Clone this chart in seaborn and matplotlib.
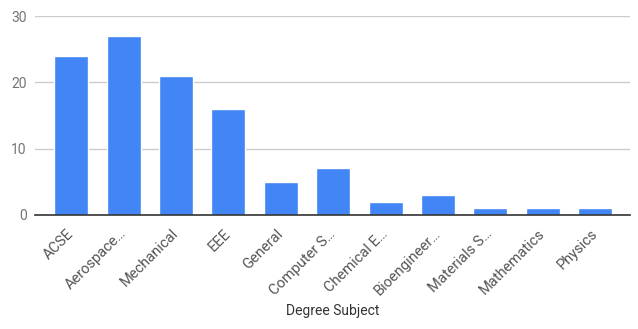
import matplotlib
matplotlib.use("Agg")
import matplotlib.pyplot as plt
import seaborn as sns
import pandas as pd

categories = ["ACSE", "Aerospace\u2026", "Mechanical", "EEE", "General", "Computer S\u2026",
              "Chemical E\u2026", "Bioengineer\u2026", "Materials S\u2026", "Mathematics", "Physics"]
counts = [24, 27, 21, 16, 5, 7, 2, 3, 1, 1, 1]
y_ticks = [0, 10, 20, 30]

sns.set_theme(style="white")
plt.rcParams['font.family'] = ['Roboto', 'DejaVu Sans']

df = pd.DataFrame({"Degree Subject": categories, "count": counts})

fig = plt.figure(figsize=(6.38, 3.29), dpi=100)
ax = fig.add_axes([0.055, 0.347, 0.932, 0.604])
sns.barplot(data=df, x="Degree Subject", y="count", color="#4285F4", saturation=1,
            width=0.65, ax=ax, zorder=3)
ax.set_xlim(-0.69, 10.66)
ax.set_ylim(0, 30)
ax.set_yticks(y_ticks)
ax.yaxis.grid(True, color="#cccccc", linewidth=1, zorder=0)
for s in ["top", "right", "left"]:
    ax.spines[s].set_visible(False)
ax.spines["bottom"].set_color("#333333")
ax.spines["bottom"].set_linewidth(1.2)
ax.spines["bottom"].set_zorder(4)
ax.tick_params(axis="y", colors="#757575", labelsize=10, length=0, pad=6)
ax.set_xticks(range(len(categories)))
ax.set_xticklabels(categories, rotation=45, ha="right", va="center",
                   rotation_mode="anchor", fontsize=10.5, color="#555555")
ax.tick_params(axis="x", length=0, pad=12)
for lbl in ax.get_yticklabels():
    lbl.set_color("#757575")
ax.set_ylabel("")
ax.set_xlabel("Degree Subject", fontsize=10, color="#333333")
ax.xaxis.set_label_coords(0.5, -0.45)
fig.savefig("out.png", dpi=100)
